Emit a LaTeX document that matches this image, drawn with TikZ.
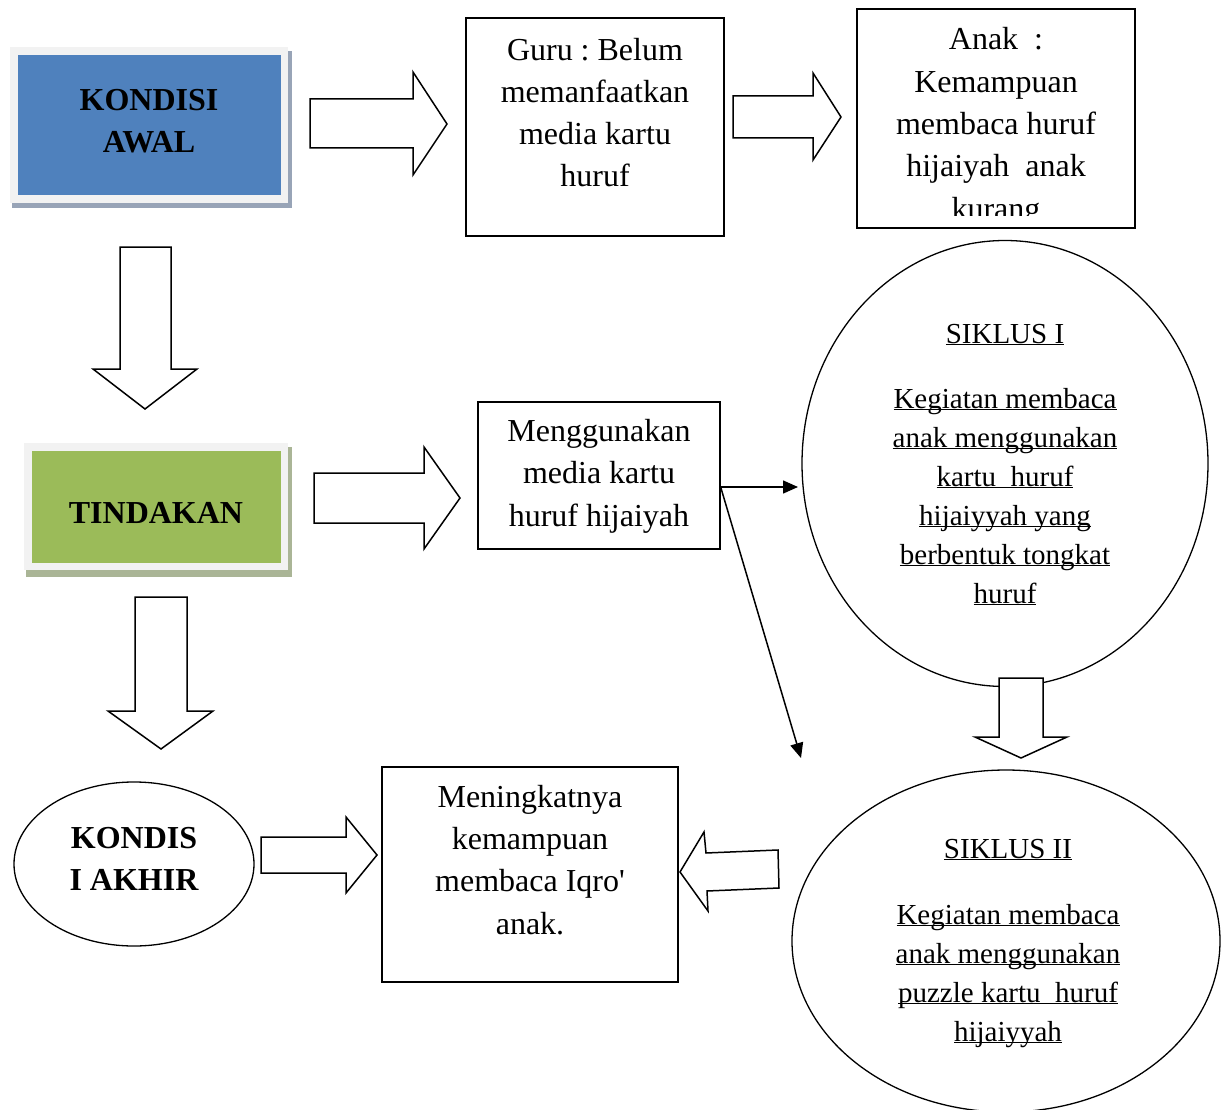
\documentclass[tikz,border=0pt]{standalone}
\usepackage{fontspec}
\setmainfont{Liberation Serif}
\newfontfamily\rawserif{Liberation Serif}[Ligatures=TeXOff]
\usetikzlibrary{arrows.meta,shapes.geometric}
\definecolor{awalblue}{HTML}{4F81BD}
\definecolor{framegray}{HTML}{F2F2F2}
\definecolor{shadowblue}{HTML}{98A4B7}
\definecolor{tindgreen}{HTML}{9BBB59}
\definecolor{shadowgreen}{HTML}{AAB596}
\newcommand\myul[1]{\underline{\raisebox{0pt}[\height][0pt]{#1}}}
\frenchspacing
\begin{document}
\begin{tikzpicture}[x=1pt,y=-1pt,
  box/.style={draw, line width=1.3pt, inner sep=0pt},
  oval/.style={draw, ellipse, line width=1.3pt, inner sep=0pt},
  big/.style={font=\fontsize{32}{42.3}\selectfont, align=center, inner sep=0pt, anchor=base},
  bigb/.style={big, font=\fontsize{32}{42}\selectfont\bfseries},
  sml/.style={font=\fontsize{29}{39}\selectfont, align=center, inner sep=0pt, anchor=base},
  blk/.style={draw, line width=1.5pt, fill=white, line join=miter},
  thin/.style={line width=1.5pt, -{Triangle[length=15pt,width=13pt]}},
  plain/.style={inner sep=0pt, outer sep=0pt}]
\useasboundingbox (0,0) rectangle (1223,1110);
\fill[white] (0,0) rectangle (1223,1110);

% KONDISI AWAL
\node[plain, fill=shadowblue, minimum width=280pt, minimum height=157pt] (awalsh) at (152,129.5) {};
\node[plain, fill=framegray, minimum width=278pt, minimum height=156pt] (awalfr) at (149,125) {};
\node[plain, fill=awalblue, minimum width=263pt, minimum height=140pt] (awal) at (149.5,125) {};
\node[bigb] (awaltx) at (149,153) {KONDISI\\AWAL};

% TINDAKAN
\node[plain, fill=shadowgreen, minimum width=266pt, minimum height=130pt] (tindsh) at (159,512) {};
\node[plain, fill=framegray, minimum width=264pt, minimum height=127pt] (tindfr) at (156,506.5) {};
\node[plain, fill=tindgreen, minimum width=249pt, minimum height=112pt] (tind) at (156.5,507) {};
\node[bigb] (tindtx) at (156,523) {TINDAKAN};

% Boxes
\node[box, minimum width=258pt, minimum height=218pt] (guru) at (595,127) {};
\node[big] (gurutx) at (595,187) {Guru : Belum\\memanfaatkan\\media kartu\\huruf};

\node[box, minimum width=278pt, minimum height=219pt] (anak) at (996,118.5) {};
\begin{scope}
\clip (857,9) rectangle (1135,216);
\node[big] (anaktx) at (996,219) {Anak\ \ :\\Kemampuan\\membaca huruf\\hijaiyah\ \ anak\\kurang};
\end{scope}

\node[box, minimum width=242pt, minimum height=147pt] (meng) at (599,475.5) {};
\node[big] (mengtx) at (599,526) {Menggunakan\\media kartu\\huruf hijaiyah};

\node[box, minimum width=296pt, minimum height=215pt] (ningkat) at (530,874.5) {};
\node[big] (ningkattx) at (530,934) {\rawserif Meningkatnya\\\rawserif kemampuan\\\rawserif membaca Iqro'\\\rawserif anak.};

% Ellipses
\node[oval, minimum width=406pt, minimum height=446pt] (s1) at (1005,463.5) {};
\node[sml] (s1t) at (1005,343) {\myul{SIKLUS I}};
\node[sml] (s1b) at (1005,603) {\myul{Kegiatan membaca}\\\myul{anak menggunakan}\\\myul{kartu\ \ huruf}\\\myul{hijaiyyah yang}\\\myul{berbentuk tongkat}\\\myul{huruf}};

\node[oval, minimum width=428pt, minimum height=342pt] (s2) at (1006,941) {};
\node[sml] (s2t) at (1008,858) {\myul{SIKLUS II}};
\node[sml] (s2b) at (1008,1041) {\myul{Kegiatan membaca}\\\myul{anak menggunakan}\\\myul{puzzle kartu\ \ huruf}\\\myul{hijaiyyah}};

\node[oval, minimum width=240pt, minimum height=164pt] (akhir) at (134,864) {};
\node[bigb] (akhirtx) at (134,890) {KONDIS\\I AKHIR};

% Block arrows
\draw[blk] (310,99)--(413,99)--(413,72)--(447,124)--(413,175)--(413,148)--(310,148)--cycle;
\draw[blk] (733,96)--(813,96)--(813,73)--(841,117)--(813,160)--(813,138)--(733,138)--cycle;
\draw[blk] (120,247)--(171,247)--(171,369)--(197,369)--(145,409)--(93,369)--(120,369)--cycle;
\draw[blk] (314,473)--(424,473)--(424,447)--(460,498)--(424,549)--(424,523)--(314,523)--cycle;
\draw[blk] (135,597)--(187,597)--(187,711)--(213,711)--(161,749)--(108,711)--(135,711)--cycle;
\draw[blk] (261,837)--(346,837)--(346,817)--(377,855)--(346,893)--(346,873)--(261,873)--cycle;
\draw[blk] (680,872)--(704,832)--(706,853)--(778,850)--(779,888)--(707,891)--(708,911)--cycle;
\draw[blk] (999,678)--(1043,678)--(1043,737)--(1067,737)--(1021,758)--(975,737)--(999,737)--cycle;

% Thin arrows
\coordinate (split) at (meng.east |- 0,487);
\coordinate (toS1) at (798,487);
\coordinate (toS2) at (801,758);
\draw[thin] (split) -- (toS1);
\draw[thin] (split) -- (toS2);
\end{tikzpicture}
\end{document}
